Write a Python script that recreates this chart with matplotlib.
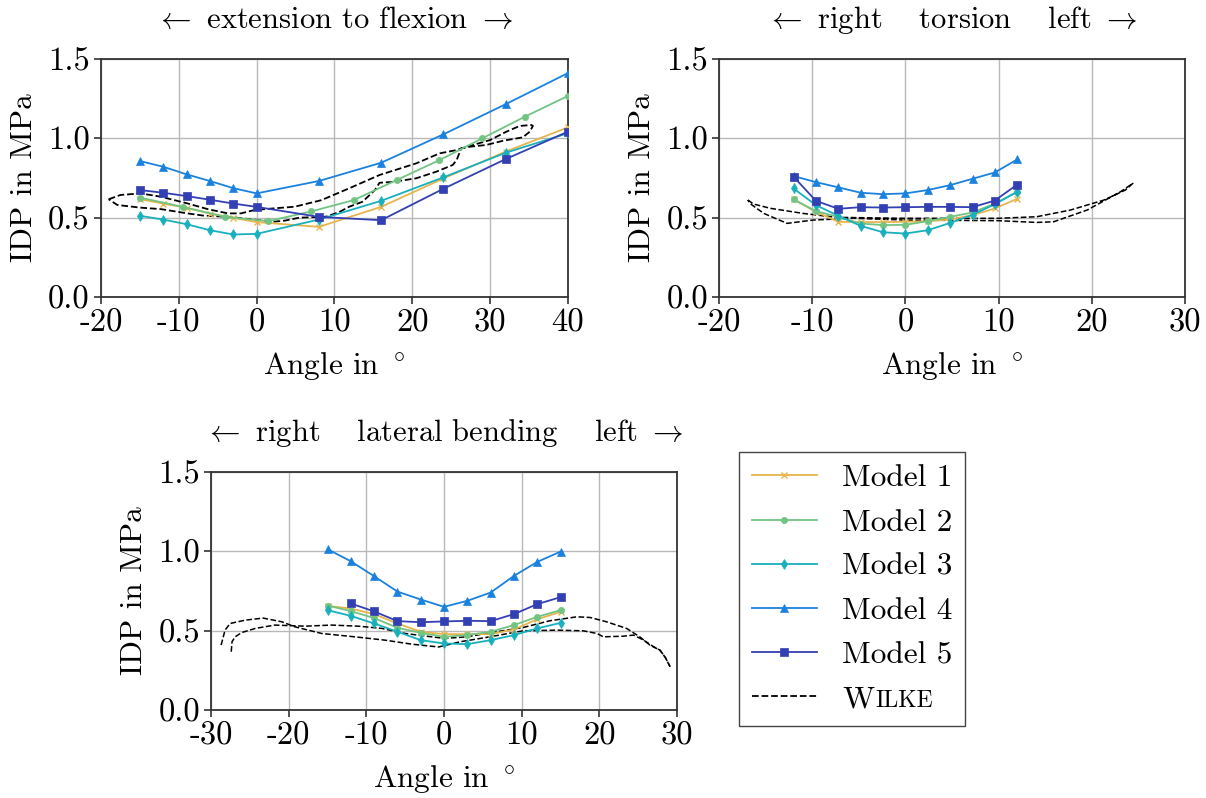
import numpy as np
import matplotlib
matplotlib.use('Agg')
import matplotlib.pyplot as plt

plt.rcParams.update({'font.family': 'serif', 'font.serif': ['cmr10'],
                     'mathtext.fontset': 'cm', 'axes.unicode_minus': False,
                     'font.size': 22.5})

#
# model data, one set per load case
flex_x = [-15, -12, -9, -6, -3, 0, 8, 16, 24, 32, 40]
flex_x2 = [-15, -9.5, -4, 1.5, 7, 12.5, 18, 23.5, 29, 34.5, 40]
flex_m1 = [0.617, 0.589, 0.562, 0.526, 0.499, 0.472, 0.442, 0.568, 0.747, 0.916, 1.069]
flex_m2 = [0.627, 0.568, 0.505, 0.478, 0.539, 0.611, 0.737, 0.863, 1.000, 1.137, 1.267]
flex_m3 = [0.512, 0.488, 0.459, 0.421, 0.394, 0.398, 0.488, 0.606, 0.754, 0.909, 1.032]
flex_m4 = [0.857, 0.821, 0.773, 0.731, 0.686, 0.653, 0.731, 0.846, 1.025, 1.215, 1.411]
flex_m5 = [0.674, 0.657, 0.636, 0.613, 0.589, 0.568, 0.505, 0.484, 0.682, 0.869, 1.042]

tors_x = [-12, -9.6, -7.2, -4.8, -2.4, 0, 2.4, 4.8, 7.2, 9.6, 12]
tors_m1 = [0.615, 0.537, 0.474, 0.472, 0.472, 0.474, 0.478, 0.488, 0.516, 0.558, 0.619]
tors_m2 = [0.615, 0.541, 0.505, 0.463, 0.453, 0.455, 0.478, 0.505, 0.533, 0.589, 0.663]
tors_m3 = [0.684, 0.579, 0.512, 0.448, 0.408, 0.400, 0.421, 0.467, 0.518, 0.585, 0.663]
tors_m4 = [0.762, 0.724, 0.691, 0.657, 0.648, 0.653, 0.674, 0.705, 0.745, 0.785, 0.867]
tors_m5 = [0.758, 0.606, 0.556, 0.566, 0.564, 0.566, 0.568, 0.568, 0.566, 0.608, 0.709]

lat_x = [-15, -12, -9, -6, -3, 0, 3, 6, 9, 12, 15]
lat_m1 = [0.656, 0.639, 0.604, 0.545, 0.493, 0.478, 0.478, 0.478, 0.507, 0.572, 0.618]
lat_m2 = [0.658, 0.623, 0.579, 0.518, 0.486, 0.461, 0.472, 0.493, 0.535, 0.587, 0.629]
lat_m3 = [0.629, 0.593, 0.545, 0.493, 0.440, 0.419, 0.415, 0.440, 0.472, 0.514, 0.549]
lat_m4 = [1.013, 0.937, 0.843, 0.746, 0.696, 0.650, 0.688, 0.740, 0.845, 0.933, 0.998]
lat_m5 = [None, 0.671, 0.621, 0.560, 0.553, 0.558, 0.562, 0.560, 0.604, 0.667, 0.711]

#
# Wilke in vivo measurements (hysteresis loops)
wflex_x = [-19.0, -17.5, -14.9, -12.3, -8.9, -6.3, -3.7, -2.0, -0.3, 2.3, 4.9, 8.3, 11.9, 15.8,
           20.5, 23.5, 25.7, 27.0, 30.0, 32.1, 33.8, 35.3, 35.5, 35.1, 34.2, 31.7, 29.5, 27.4,
           26.3, 25.7, 25.2, 23.1, 20.5, 17.5, 15.8, 15.2, 13.6, 11.9, 10.6, 8.9, 5.5, 3.6, 2.3,
           -0.7, -3.7, -6.7, -8.9, -12.3, -14.9, -17.9, -19.0]
wflex_y = [0.616, 0.643, 0.653, 0.632, 0.590, 0.554, 0.527, 0.527, 0.548, 0.559, 0.569, 0.610,
           0.685, 0.769, 0.842, 0.905, 0.926, 0.947, 0.989, 1.042, 1.078, 1.084, 1.078, 1.042,
           1.006, 0.985, 0.958, 0.947, 0.937, 0.863, 0.832, 0.790, 0.748, 0.725, 0.720, 0.674,
           0.600, 0.569, 0.535, 0.506, 0.500, 0.481, 0.475, 0.490, 0.506, 0.512, 0.527, 0.554,
           0.563, 0.580, 0.616]

wtors_x = [-16.9, -16.3, -14.5, -11.0, -7.4, -0.2, 10.0, 14.1, 17.7, 21.3, 23.6, 24.4,
           23.1, 19.5, 15.9, 14.1, 10.0, 0.0, -5.6, -9.9, -12.7, -15.2, -16.7, -16.9]
wtors_y = [0.611, 0.586, 0.559, 0.527, 0.502, 0.496, 0.496, 0.506, 0.548, 0.611, 0.674, 0.716,
           0.664, 0.548, 0.474, 0.470, 0.481, 0.485, 0.496, 0.485, 0.464, 0.527, 0.590, 0.611]

wlat_xa = [-28.7, -28.2, -27.55, -25.6, -23.3, -20.9, -19.2, -15.75, -11.5, -7.6, -4.2, -0.7,
           2.1, 5.9, 10.2, 14.5, 17.9, 19.7, 20.5, 23.1, 24.4, 25.7, 27.0, 27.8, 28.5, 29.1]
wlat_ya = [0.409, 0.503, 0.545, 0.566, 0.579, 0.556, 0.524, 0.482, 0.461, 0.440, 0.415, 0.397,
           0.430, 0.461, 0.499, 0.503, 0.499, 0.482, 0.461, 0.465, 0.472, 0.440, 0.398, 0.377,
           0.330, 0.273]
wlat_xb = [-27.4, -27.3, -26.9, -26.05, -24.3, -21.8, -17.9, -14.5, -11.0, -8.0, -5.0, -1.6,
           0.1, 2.9, 5.9, 10.2, 13.6, 17.1, 18.8, 20.9, 23.5, 25.2, 26.5, 27.8, 28.5, 29.1]
wlat_yb = [0.367, 0.430, 0.461, 0.488, 0.514, 0.535, 0.528, 0.535, 0.528, 0.514, 0.482, 0.461,
           0.451, 0.461, 0.486, 0.520, 0.562, 0.587, 0.583, 0.556, 0.514, 0.461, 0.409, 0.377,
           0.330, 0.273]

labels = ['Model 1', 'Model 2', 'Model 3', 'Model 4', 'Model 5']
colors = ['#e8b44c', '#72c483', '#18b0bd', '#1a82de', '#3340b3']
markers = ['x', 'o', 'd', '^', 's']
msizes = [4, 4.5, 5, 6, 5.5]

fig = plt.figure(figsize=(12.06, 7.98), dpi=100)
ax1 = fig.add_axes([0.0837, 0.6278, 0.3872, 0.2983])
ax2 = fig.add_axes([0.5962, 0.6278, 0.3864, 0.2983])
ax3 = fig.add_axes([0.1750, 0.1103, 0.3864, 0.2983])

def draw_models(ax, xs, ys):
    for x, y, lab, c, m, ms in zip(xs, ys, labels, colors, markers, msizes):
        x = np.array(x, dtype=float)
        y = np.array([np.nan if v is None else v for v in y], dtype=float)
        ok = ~np.isnan(y)
        ax.plot(x[ok], y[ok], color=c, marker=m, markersize=ms, lw=1.3, label=lab,
                markeredgewidth=1.0 if m == 'x' else 0.5, zorder=3)

draw_models(ax1, [flex_x, flex_x2, flex_x, flex_x, flex_x],
            [flex_m1, flex_m2, flex_m3, flex_m4, flex_m5])
ax1.plot(wflex_x, wflex_y, 'k--', lw=1.3, label='W', zorder=2)

draw_models(ax2, [tors_x] * 5, [tors_m1, tors_m2, tors_m3, tors_m4, tors_m5])
ax2.plot(wtors_x, wtors_y, 'k--', lw=1.1, zorder=2)

draw_models(ax3, [lat_x] * 5, [lat_m1, lat_m2, lat_m3, lat_m4, lat_m5])
ax3.plot(wlat_xa, wlat_ya, 'k--', lw=1.1, zorder=2)
ax3.plot(wlat_xb, wlat_yb, 'k--', lw=1.1, zorder=2)

titles = [r'${\leftarrow}$ extension to flexion ${\rightarrow}$',
          r'${\leftarrow}$ right $\quad$torsion$\quad$ left ${\rightarrow}$',
          r'${\leftarrow}$ right $\quad$lateral bending$\quad$ left ${\rightarrow}$']
xlims = [(-20, 40), (-20, 30), (-30, 30)]
for ax, t, xl in zip([ax1, ax2, ax3], titles, xlims):
    ax.set_xlim(*xl)
    ax.set_ylim(0, 1.5)
    ax.set_xticks(np.arange(xl[0], xl[1] + 1, 10))
    ax.set_yticks([0, 0.5, 1.0, 1.5])
    ax.set_yticklabels(['0.0', '0.5', '1.0', '1.5'])
    ax.grid(True, color='#b8b8b8', lw=1.0)
    ax.set_axisbelow(True)
    ax.set_title(t, pad=22, fontsize=22)
    ax.set_xlabel(r'Angle in $^\circ$', labelpad=9)
    ax.set_ylabel('IDP in MPa', labelpad=7)
    ax.tick_params(direction='out', length=5, width=1.2, color='#333333', pad=3,
                   labelsize=23.5)
    for s in ax.spines.values():
        s.set_linewidth(1.3)
        s.set_color('#333333')

#
# legend, with the small caps name done by hand
h, l = ax1.get_legend_handles_labels()
leg = fig.legend(h, l, loc='upper left', bbox_to_anchor=(0.6128, 0.4336),
                 fancybox=False, edgecolor='#444444', framealpha=1, handlelength=2.1,
                 labelspacing=0.52, borderpad=0.4, handletextpad=0.8, borderaxespad=0)
leg.get_frame().set_linewidth(1.0)
wtxt = leg.get_texts()[-1]
fig.canvas.draw()
bb = wtxt.get_window_extent().transformed(fig.transFigure.inverted())
fig.text(bb.x1 + 0.0006, bb.y0 + 0.0016, 'ILKE', fontsize=17, va='bottom', ha='left', zorder=10)

fig.savefig('out.png', dpi=100)
